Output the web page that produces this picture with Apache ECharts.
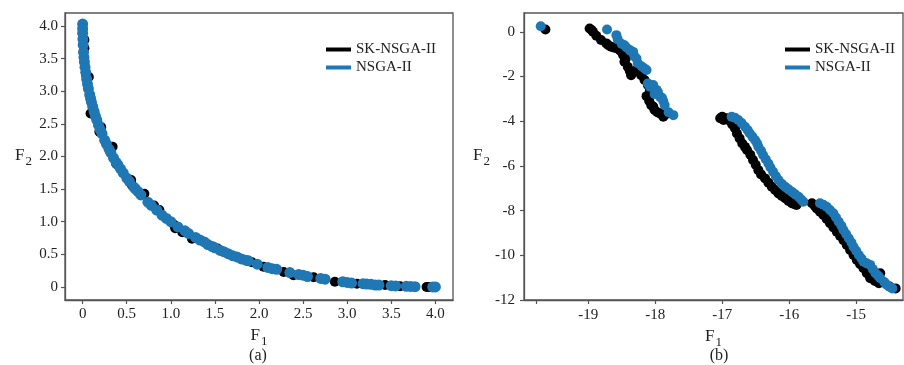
<!DOCTYPE html>
<html>
<head>
<meta charset="utf-8">
<script src="https://cdn.jsdelivr.net/npm/echarts@6/dist/echarts.min.js"></script>
<style>html,body{margin:0;padding:0;background:#fff}#c{width:904px;height:365px}</style>
</head>
<body>
<div id="c"></div>
<script>
// ---- Panel (a) data ----
const seriesNames = ['SK-NSGA-II', 'NSGA-II'];
const aTicks = [0, 0.5, 1.0, 1.5, 2.0, 2.5, 3.0, 3.5, 4.0];
const aSK = [
  [0.02,3.79],[0.02,3.66],[0.04,3.25],[0.07,3.22],[0.09,2.66],[0.21,2.45],[0.19,2.38],
  [0.34,2.15],[0.38,1.89],[0.55,1.64],[0.56,1.56],[0.70,1.43],[0.81,1.25],[0.87,1.18],
  [1.04,0.95],[1.05,0.90],[1.13,0.84],[1.24,0.74],[1.53,0.59],[1.92,0.38],[2.05,0.31],
  [2.28,0.23],[2.39,0.18],[2.62,0.15],[2.86,0.08],[3.11,0.05],[3.43,0.03],[3.60,0.01],
  [3.90,0.0],[3.93,0.0]
];
const aNSGA = [
  [0.0,4.03],[0.0,3.96],[0.0,3.89],[0.003,3.80],[0.006,3.71],[0.01,3.60],[0.015,3.52],
  [0.02,3.45],[0.027,3.37],[0.035,3.29],[0.045,3.19],[0.055,3.11],[0.065,3.04],[0.08,2.95],
  [0.09,2.89],[0.10,2.83],[0.115,2.76],[0.13,2.69],[0.145,2.62],[0.16,2.56],[0.18,2.48],
  [0.20,2.41],[0.22,2.35],[0.25,2.25],[0.27,2.19],[0.30,2.11],[0.32,2.06],[0.35,1.98],
  [0.38,1.91],[0.40,1.87],[0.43,1.81],[0.46,1.75],[0.50,1.67],[0.53,1.62],[0.58,1.53],
  [0.60,1.50],[0.63,1.46],[0.66,1.41],[0.74,1.30],[0.78,1.25],[0.84,1.18],[0.90,1.10],
  [0.95,1.05],[1.00,1.00],[1.08,0.92],[1.16,0.86],[1.20,0.82],[1.28,0.76],[1.33,0.72],
  [1.38,0.69],[1.42,0.65],[1.47,0.62],[1.50,0.60],[1.56,0.56],[1.60,0.54],[1.65,0.51],
  [1.70,0.48],[1.75,0.46],[1.80,0.43],[1.85,0.41],[1.88,0.40],[1.98,0.35],[2.10,0.30],
  [2.15,0.28],[2.20,0.27],[2.35,0.22],[2.45,0.19],[2.50,0.18],[2.55,0.16],[2.70,0.13],
  [2.75,0.12],[2.95,0.08],[3.00,0.07],[3.05,0.06],[3.18,0.05],[3.22,0.045],[3.27,0.04],
  [3.32,0.03],[3.36,0.03],[3.50,0.02],[3.55,0.015],[3.67,0.01],[3.72,0.008],[3.77,0.005],
  [3.97,0.0],[4.0,0.0]
];
// ---- Panel (b) data ----
const bXTicks = [-19.77, -19, -18, -17, -16, -15];
const bXLabels = [-19, -18, -17, -16, -15];
const bYTicks = [-12, -10, -8, -6, -4, -2, 0];
const bSK = [
  [-19.64,0.10],
  [-18.98,0.15],[-18.95,0.08],[-18.93,0.0],[-18.88,-0.18],[-18.81,-0.37],[-18.73,-0.52],
  [-18.70,-0.60],[-18.66,-0.67],[-18.62,-0.70],[-18.58,-0.74],[-18.53,-0.82],[-18.50,-0.90],
  [-18.48,-1.04],[-18.44,-1.20],[-18.46,-1.34],[-18.41,-1.57],[-18.38,-1.75],[-18.36,-1.94],
  [-18.32,-1.80],[-18.28,-1.71],[-18.24,-1.80],[-18.21,-1.94],[-18.16,-2.16],[-18.11,-2.38],
  [-18.08,-2.60],[-18.13,-2.88],[-18.09,-3.10],[-18.06,-3.28],[-18.03,-3.35],[-18.01,-3.50],
  [-17.97,-3.60],[-17.93,-3.65],[-17.90,-3.70],[-17.88,-3.80],[-17.86,-3.73],
  [-17.03,-3.87],[-17.00,-3.80],[-16.98,-3.95],[-16.93,-3.87],[-16.88,-4.00],[-16.85,-4.15],
  [-16.81,-4.32],[-16.78,-4.55],[-16.74,-4.77],[-16.70,-5.00],[-16.66,-5.15],[-16.63,-5.29],
  [-16.58,-5.50],[-16.54,-5.74],[-16.50,-5.95],[-16.46,-6.19],[-16.42,-6.38],[-16.36,-6.56],
  [-16.31,-6.75],[-16.26,-6.93],[-16.21,-7.08],[-16.16,-7.23],[-16.11,-7.35],[-16.06,-7.45],
  [-16.01,-7.57],[-15.96,-7.67],[-15.92,-7.72],[-15.89,-7.75],
  [-15.66,-7.67],[-15.62,-7.78],[-15.59,-7.90],[-15.54,-8.05],[-15.49,-8.20],[-15.44,-8.38],
  [-15.39,-8.57],[-15.34,-8.75],[-15.29,-8.94],[-15.24,-9.13],[-15.19,-9.32],[-15.14,-9.54],
  [-15.09,-9.76],[-15.04,-9.98],[-14.99,-10.21],[-14.94,-10.40],[-14.89,-10.58],[-14.84,-10.80],
  [-14.79,-11.03],[-14.72,-11.15],[-14.66,-11.25],[-14.64,-10.80],[-14.50,-11.40],[-14.41,-11.48]
];
const bNSGA = [
  [-19.71,0.25],
  [-18.72,0.10],[-18.58,-0.15],[-18.56,-0.34],[-18.50,-0.55],[-18.46,-0.60],[-18.43,-0.70],
  [-18.38,-0.82],[-18.36,-0.87],[-18.33,-0.90],[-18.31,-1.10],[-18.28,-1.20],[-18.26,-1.41],
  [-18.20,-1.55],[-18.16,-1.64],[-18.13,-1.71],[-18.11,-2.31],[-18.08,-2.46],[-18.06,-2.40],
  [-18.03,-2.38],[-18.01,-2.78],[-17.98,-2.60],[-17.96,-2.70],[-17.93,-2.90],[-17.90,-2.95],
  [-17.88,-3.10],[-17.86,-3.28],[-17.80,-3.60],[-17.73,-3.73],
  [-16.86,-3.80],[-16.81,-3.85],[-16.76,-3.95],[-16.71,-4.08],[-16.66,-4.25],[-16.62,-4.40],
  [-16.59,-4.54],[-16.55,-4.69],[-16.51,-4.84],[-16.48,-4.99],[-16.46,-5.14],[-16.42,-5.32],
  [-16.39,-5.51],[-16.35,-5.70],[-16.31,-5.89],[-16.28,-6.07],[-16.24,-6.26],[-16.20,-6.45],
  [-16.16,-6.63],[-16.11,-6.80],[-16.06,-6.93],[-16.01,-7.05],[-15.96,-7.16],[-15.91,-7.27],
  [-15.86,-7.38],[-15.82,-7.50],[-15.79,-7.60],
  [-15.54,-7.67],[-15.49,-7.74],[-15.44,-7.83],[-15.39,-7.97],[-15.34,-8.12],[-15.30,-8.31],
  [-15.26,-8.50],[-15.22,-8.68],[-15.19,-8.87],[-15.15,-9.05],[-15.11,-9.24],[-15.07,-9.43],
  [-15.04,-9.62],[-15.00,-9.80],[-14.96,-9.99],[-14.92,-10.14],[-14.89,-10.29],[-14.84,-10.36],
  [-14.79,-10.43],[-14.75,-10.62],[-14.71,-10.80],[-14.67,-10.92],[-14.64,-11.03],[-14.58,-11.20],
  [-14.55,-11.30],[-14.51,-11.40],[-14.46,-11.48]
];

const FONT = 'Liberation Serif';
const colors = ['#000000', '#1f77b4'];

function fmtA(v){ return v === 0 ? '0' : v.toFixed(1); }
const axisLineStyle = {show: true, onZero: false, lineStyle: {color: '#555', width: 1.3}};
const tickStyle = {show: true, length: 4, lineStyle: {color: '#555', width: 1.2}};
const labelBase = {fontFamily: FONT, fontSize: 15, color: '#222'};
const nameRich = {
  a: {fontFamily: FONT, fontSize: 17, color: '#222', verticalAlign: 'top', lineHeight: 18},
  b: {fontFamily: FONT, fontSize: 13, color: '#222', verticalAlign: 'top', padding: [8, 0, 0, 1], lineHeight: 13}
};
const legendText = {fontFamily: FONT, fontSize: 15, color: '#222', lineHeight: 15};

const chart = echarts.init(document.getElementById('c'), null, {renderer: 'canvas'});
chart.setOption({
  animation: false,
  backgroundColor: '#fff',
  grid: [
    {left: 65, top: 13, width: 388, height: 287, show: true, borderColor: '#555', borderWidth: 1.3, containLabel: false},
    {left: 524, top: 13, width: 379, height: 287, show: true, borderColor: '#555', borderWidth: 1.3, containLabel: false}
  ],
  legend: [
    {orient: 'vertical', left: 326, top: 42, padding: 0, itemWidth: 25, itemHeight: 4, itemGap: 3,
     icon: 'rect', data: seriesNames, textStyle: legendText},
    {orient: 'vertical', left: 785, top: 42, padding: 0, itemWidth: 25, itemHeight: 4, itemGap: 3,
     icon: 'rect', data: seriesNames, textStyle: legendText}
  ],
  xAxis: [
    {type: 'value', gridIndex: 0, min: -0.2, max: 4.2,
     axisLine: axisLineStyle, axisTick: Object.assign({customValues: aTicks}, tickStyle),
     axisLabel: Object.assign({customValues: aTicks, margin: 7, formatter: fmtA}, labelBase),
     splitLine: {show: false},
     name: '{a|F}{b|1}', nameLocation: 'middle', nameGap: 24, nameTextStyle: {rich: nameRich}},
    {type: 'value', gridIndex: 1, min: -19.96, max: -14.3,
     axisLine: axisLineStyle, axisTick: Object.assign({customValues: bXTicks}, tickStyle),
     axisLabel: Object.assign({customValues: bXLabels, margin: 8, formatter: v => String(v)}, labelBase),
     splitLine: {show: false},
     name: '{a|F}{b|1}', nameLocation: 'middle', nameGap: 24, nameTextStyle: {rich: nameRich}}
  ],
  yAxis: [
    {type: 'value', gridIndex: 0, min: -0.2, max: 4.2,
     axisLine: axisLineStyle, axisTick: Object.assign({customValues: aTicks}, tickStyle),
     axisLabel: Object.assign({customValues: aTicks, margin: 7, formatter: fmtA}, labelBase),
     splitLine: {show: false},
     name: '{a|F}{b|2}', nameLocation: 'middle', nameGap: 33, nameRotate: 0, nameTextStyle: {rich: nameRich}},
    {type: 'value', gridIndex: 1, min: -12, max: 0.84,
     axisLine: axisLineStyle, axisTick: Object.assign({customValues: bYTicks}, tickStyle),
     axisLabel: Object.assign({customValues: bYTicks, margin: 9, formatter: v => String(v)}, labelBase),
     splitLine: {show: false},
     name: '{a|F}{b|2}', nameLocation: 'middle', nameGap: 34, nameRotate: 0, nameTextStyle: {rich: nameRich}}
  ],
  series: [
    {name: seriesNames[0], type: 'scatter', xAxisIndex: 0, yAxisIndex: 0, data: aSK,
     symbolSize: 10, itemStyle: {color: colors[0], opacity: 1}},
    {name: seriesNames[1], type: 'scatter', xAxisIndex: 0, yAxisIndex: 0, data: aNSGA,
     symbolSize: 11, itemStyle: {color: colors[1], opacity: 1}},
    {name: seriesNames[0], type: 'scatter', xAxisIndex: 1, yAxisIndex: 1, data: bSK,
     symbolSize: 10, itemStyle: {color: colors[0], opacity: 1}},
    {name: seriesNames[1], type: 'scatter', xAxisIndex: 1, yAxisIndex: 1, data: bNSGA,
     symbolSize: 10, itemStyle: {color: colors[1], opacity: 1}}
  ],
  graphic: [
    {type: 'text', x: 258, y: 356, style: {text: '(a)', fontFamily: FONT, fontSize: 16, fill: '#222', align: 'center', verticalAlign: 'middle'}},
    {type: 'text', x: 719, y: 356, style: {text: '(b)', fontFamily: FONT, fontSize: 16, fill: '#222', align: 'center', verticalAlign: 'middle'}}
  ]
});
</script>
</body>
</html>
